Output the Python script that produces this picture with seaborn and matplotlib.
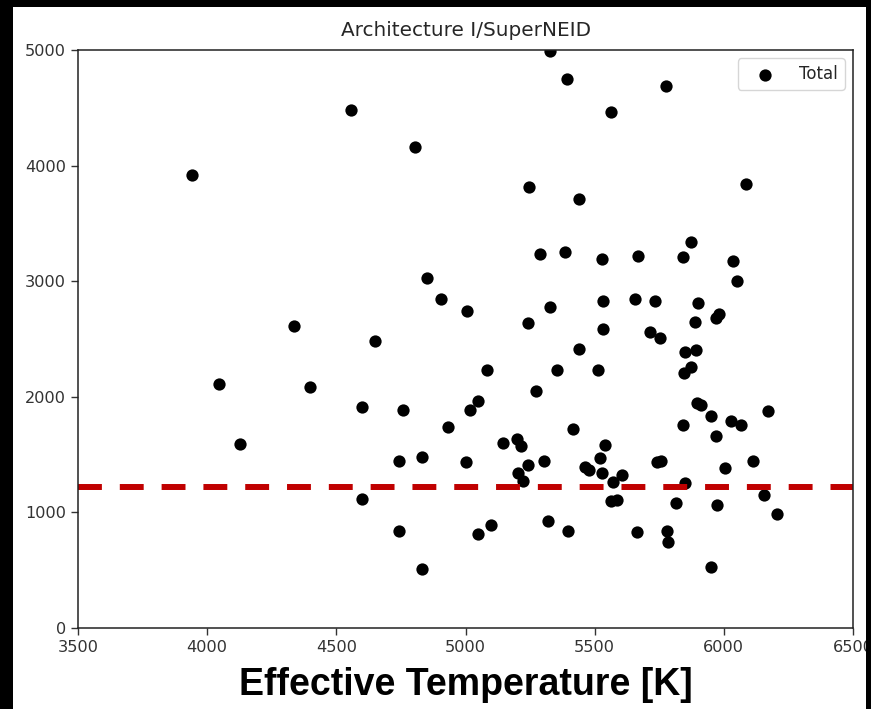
import numpy as np
import pandas as pd
import seaborn as sns
import matplotlib.pyplot as plt
from matplotlib.patches import Rectangle

# effective temperature [K] and value for each star
teff = [3940, 4047, 4128, 4337, 4399, 4556, 4599, 4599, 4649, 4743,
        4743, 4758, 4806, 4830, 4830, 4850, 4904, 4932, 5006, 5001,
        5016, 5050, 5050, 5083, 5100, 5144, 5198, 5216, 5203, 5223,
        5242, 5246, 5241, 5272, 5290, 5305, 5318, 5328, 5328, 5353,
        5386, 5392, 5397, 5416, 5441, 5441, 5461, 5477, 5513, 5519,
        5528, 5528, 5532, 5532, 5539, 5562, 5564, 5571, 5588, 5606,
        5655, 5663, 5668, 5713, 5732, 5742, 5752, 5758, 5775, 5780,
        5784, 5813, 5843, 5843, 5846, 5848, 5851, 5873, 5874, 5887,
        5892, 5896, 5900, 5910, 5952, 5951, 5968, 5971, 5980, 5974,
        6003, 6029, 6037, 6052, 6068, 6086, 6114, 6154, 6172, 6207]
value = [3921, 2113, 1594, 2615, 2082, 4478, 1909, 1118, 2482, 1444,
         836, 1888, 4163, 1476, 510, 3025, 2843, 1736, 2745, 1433,
         1888, 1963, 816, 2232, 891, 1598, 1635, 1574, 1338, 1269,
         1413, 3817, 2636, 2050, 3232, 1444, 923, 4990, 2777, 2232,
         3252, 4746, 836, 1725, 3708, 2411, 1395, 1367, 2232, 1468,
         1338, 3189, 2584, 2831, 1583, 4466, 1098, 1260, 1107, 1326,
         2843, 828, 3218, 2563, 2829, 1433, 2506, 1444, 4691, 839,
         741, 1078, 3206, 1756, 2203, 1254, 2385, 3342, 2260, 2650,
         2405, 1949, 2809, 1929, 1834, 530, 1661, 2679, 2716, 1067,
         1381, 1794, 3177, 3004, 1756, 3838, 1444, 1153, 1880, 989]
threshold = 1220

df = pd.DataFrame({'Teff': teff, 'Value': value})

sns.set_style('ticks')
plt.rcParams['font.family'] = ['DejaVu Sans']

W, H = 871, 709
fig = plt.figure(figsize=(W / 100, H / 100), dpi=100, facecolor='black')
# white page inside the black screenshot border
fig.add_artist(Rectangle((13 / W, 0), (866 - 13) / W, (H - 7) / H,
                         facecolor='white', edgecolor='none', zorder=-5))

ax = fig.add_axes([78 / W, (H - 628) / H, (853 - 78) / W, (628 - 50) / H])
sns.scatterplot(data=df, x='Teff', y='Value', color='black', s=78,
                linewidth=0, label='Total', ax=ax)
ax.axhline(threshold, color='#c00000', lw=4.3, dashes=(4, 3))

ax.set_xlim(3500, 6500)
ax.set_ylim(0, 5000)
ax.set_xticks(np.arange(3500, 6501, 500))
ax.set_yticks(np.arange(0, 5001, 1000))
ax.tick_params(labelsize=11.6, colors='#333333', length=5, width=1)
for sp in ax.spines.values():
    sp.set_color('#222222')
    sp.set_linewidth(1.1)
ax.set_xlabel('')
ax.set_ylabel('')
ax.set_title('Architecture I/SuperNEID', fontsize=14.4, color='#262626', pad=10)
ax.legend(loc='upper right', fontsize=12, frameon=True, handlelength=2.5)

fig.text((78 + 853) / 2 / W, (H - 695) / H, 'Effective Temperature [K]',
         ha='center', va='baseline', fontsize=27, fontweight='bold',
         family='Liberation Sans', color='black')

# black strip on the right edge (cuts the last tick label)
fig.add_artist(Rectangle((866 / W, 0), 5 / W, 1, facecolor='black',
                         edgecolor='none', zorder=10))

fig.savefig('out.png', dpi=100, facecolor='black')
